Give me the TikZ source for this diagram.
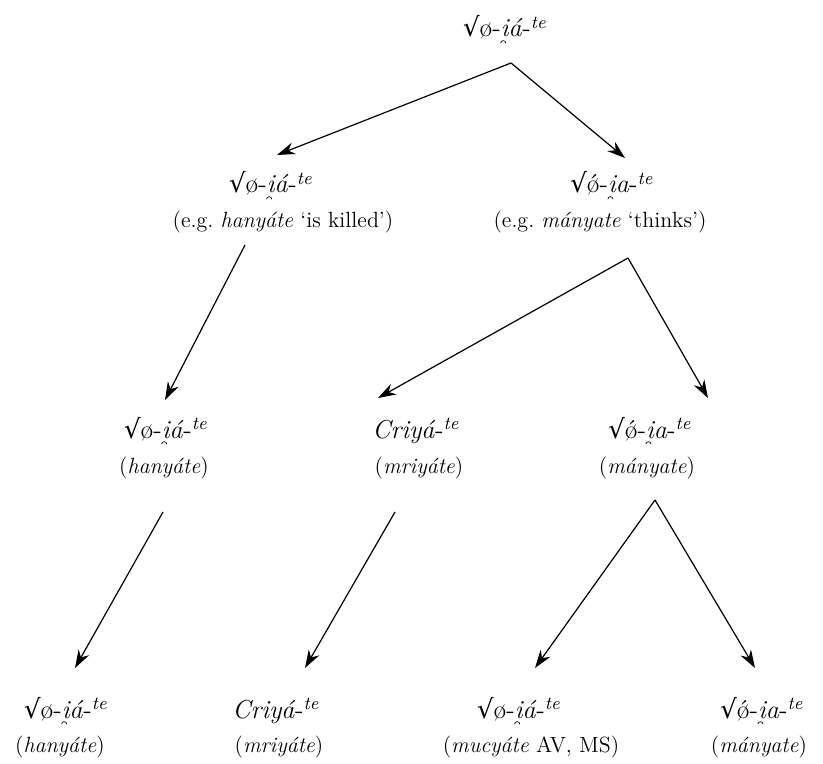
\documentclass[tikz,border=0pt]{standalone}
\usepackage{fontspec}
\newfontfamily\symfont{DejaVu Serif}
\usetikzlibrary{arrows.meta,calc}

\newcommand{\ibrev}{{i\tikz[overlay,baseline=0pt]\draw[line width=0.35pt] (-0.31em,-0.24em) arc[start angle=180,end angle=0,radius=0.1em];}}
\newcommand{\suf}{-\textsuperscript{\textit{te}}}
\newcommand{\sq}{{\symfont √}}
\newcommand{\rootA}{\sq ø-\textit{\ibrev á}\suf}
\newcommand{\rootB}{\sq ǿ-\textit{\ibrev a}\suf}
\newcommand{\rootC}{\textit{Criyá}\suf}

\begin{document}
\begin{tikzpicture}[x=0.5pt,y=-0.5pt]
  \tikzstyle{form}=[inner sep=0pt, anchor=base, font=\fontsize{13}{15}\selectfont]
  \tikzstyle{gloss}=[inner sep=0pt, anchor=base, font=\fontsize{11}{13}\selectfont]
  \tikzstyle{arr}=[-{Stealth[length=9pt,width=6pt]}, line width=0.6pt]

  \useasboundingbox (0,0) rectangle (823,764);

  \node[form]  (1)   at (505,37)  {\rootA};

  \node[form]  (2)   at (271,193) {\rootA};
  \node[gloss] (2g)  at (283,228) {(e.g.\ \textit{hanyáte} ‘is killed’)};
  \node[form]  (3)   at (612,193) {\rootB};
  \node[gloss] (3g)  at (600,228) {(e.g.\ \textit{mányate} ‘thinks’)};

  \node[form]  (4)   at (166,438) {\rootA};
  \node[gloss] (4g)  at (164,473) {(\textit{hanyáte})};
  \node[form]  (5)   at (416,438) {\rootC};
  \node[gloss] (5g)  at (419,473) {(\textit{mriyáte})};
  \node[form]  (6)   at (650,438) {\rootB};
  \node[gloss] (6g)  at (647,473) {(\textit{mányate})};

  \node[form]  (7)   at (66,718)  {\rootA};
  \node[gloss] (7g)  at (60,752)  {(\textit{hanyáte})};
  \node[form]  (8)   at (276,718) {\rootC};
  \node[gloss] (8g)  at (279,752) {(\textit{mriyáte})};
  \node[form]  (9)   at (519,718) {\rootA};
  \node[gloss] (9g)  at (531,752) {(\textit{mucyáte} AV, MS)};
  \node[form]  (10)  at (762,718) {\rootB};
  \node[gloss] (10g) at (759,752) {(\textit{mányate})};

  \draw[arr] ($(1.base)+(6,26)$)   -- ($(2.base)+(6,-38)$);
  \draw[arr] ($(1.base)+(6,26)$)   -- ($(3.base)+(13,-35)$);
  \draw[arr] ($(2g.base)+(-38,17)$) -- ($(4.base)+(-1,-38)$);
  \draw[arr] ($(3g.base)+(28,30)$)  -- ($(5.base)+(-38,-40)$);
  \draw[arr] ($(3g.base)+(28,30)$)  -- ($(6.base)+(58,-40)$);
  \draw[arr] ($(4g.base)+(-1,39)$)  -- ($(7.base)+(9,-50)$);
  \draw[arr] ($(5g.base)+(-24,39)$) -- ($(8.base)+(29,-50)$);
  \draw[arr] ($(6g.base)+(8,27)$)   -- ($(9.base)+(16,-50)$);
  \draw[arr] ($(6g.base)+(8,27)$)   -- ($(10.base)+(-7,-50)$);
\end{tikzpicture}
\end{document}
